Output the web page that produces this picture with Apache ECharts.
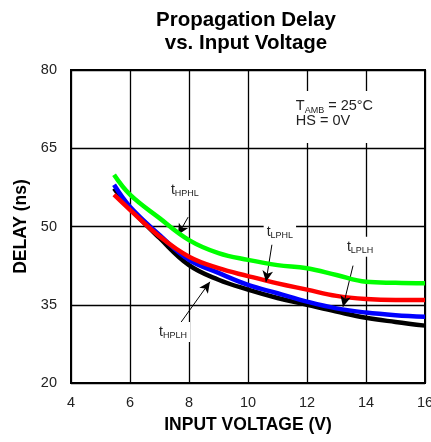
<!DOCTYPE html>
<html><head><meta charset="utf-8">
<script src="https://cdn.jsdelivr.net/npm/echarts@6/dist/echarts.min.js"></script>
<style>html,body{margin:0;padding:0;background:#fff}#c{width:431px;height:442px}</style>
</head><body><div id="c"></div>
<script>
const voltage = [5.46, 6, 7, 8, 9, 10, 11, 12, 13, 14, 15, 16];
const tHPHL = [59.9, 56.1, 51.6, 47.4, 44.9, 43.6, 42.6, 42.0, 40.7, 39.4, 39.2, 39.1];
const tLPHL = [56.1, 53.2, 48.1, 44.2, 42.0, 40.5, 39.1, 37.9, 36.7, 36.1, 35.9, 35.9];
const tLPLH = [58.0, 53.8, 48.4, 43.6, 41.1, 38.8, 37.2, 35.6, 34.3, 33.5, 33.0, 32.7];
const tHPLH = [57.3, 53.5, 47.8, 42.6, 39.8, 37.9, 36.3, 35.0, 33.7, 32.5, 31.7, 31.0];
const xTicks = [4, 6, 8, 10, 12, 14, 16];
const yTicks = [20, 35, 50, 65, 80];

const pair = (ys) => voltage.map((v, i) => [v, ys[i]]);
const FONT = 'Liberation Sans, Arial, sans-serif';

const subRich = {
  t: { fontSize: 14, fontFamily: FONT, color: '#222', lineHeight: 16 },
  s: { fontSize: 9, fontFamily: FONT, color: '#222', padding: [8, 0, 0, 0], lineHeight: 16 }
};
function labelPoint(coord, main, sub) {
  return {
    coord: coord, symbol: 'circle', symbolSize: 1,
    itemStyle: { color: 'rgba(0,0,0,0)' },
    label: {
      show: true, position: 'inside',
      formatter: '{t|' + main + '}{s|' + sub + '}',
      backgroundColor: '#fff', padding: [2, 3, 2, 3],
      rich: subRich
    }
  };
}
function arrow(a, b) { return [{ coord: a }, { coord: b }]; }

const chart = echarts.init(document.getElementById('c'), null, { renderer: 'canvas' });
chart.setOption({
  animation: false,
  backgroundColor: '#fff',
  title: {
    text: 'Propagation Delay\nvs. Input Voltage',
    left: 241, top: 4, textAlign: 'center',
    textStyle: { fontFamily: FONT, fontWeight: 'bold', fontSize: 20.5, lineHeight: 23, color: '#000' }
  },
  grid: { left: 71, top: 70, right: 6, bottom: 59, show: true, borderColor: '#000', borderWidth: 2,
    outerBoundsMode: 'none', containLabel: false },
  xAxis: {
    type: 'value', min: 4, max: 16, interval: 2,
    name: 'INPUT VOLTAGE (V)', nameLocation: 'middle', nameGap: 33,
    nameTextStyle: { fontFamily: FONT, fontWeight: 'bold', fontSize: 17.5, color: '#000' },
    axisLine: { show: true, onZero: false, lineStyle: { color: '#000', width: 2 } },
    axisTick: { show: false },
    axisLabel: { fontFamily: FONT, fontSize: 14.5, color: '#222', margin: 12,
      formatter: (v) => xTicks.includes(v) ? String(v) : '' },
    splitLine: { show: true, lineStyle: { color: '#000', width: 1.3 } }
  },
  yAxis: {
    type: 'value', min: 20, max: 80, interval: 15,
    name: 'DELAY (ns)', nameLocation: 'middle', nameGap: 38,
    nameTextStyle: { fontFamily: FONT, fontWeight: 'bold', fontSize: 17.5, color: '#000' },
    axisLine: { show: true, onZero: false, lineStyle: { color: '#000', width: 2 } },
    axisTick: { show: false },
    axisLabel: { fontFamily: FONT, fontSize: 14.5, color: '#222', margin: 14,
      formatter: (v) => yTicks.includes(v) ? String(v) : '' },
    splitLine: { show: true, lineStyle: { color: '#000', width: 1.3 } }
  },
  series: [
    { name: 'tHPLH', type: 'line', data: pair(tHPLH), smooth: 0.4, showSymbol: false,
      lineStyle: { color: '#000', width: 4.5 }, z: 2 },
    { name: 'tLPLH', type: 'line', data: pair(tLPLH), smooth: 0.4, showSymbol: false,
      lineStyle: { color: '#0000ff', width: 4.5 }, z: 3 },
    { name: 'tLPHL', type: 'line', data: pair(tLPHL), smooth: 0.4, showSymbol: false,
      lineStyle: { color: '#ff0000', width: 4.5 }, z: 4 },
    { name: 'tHPHL', type: 'line', data: pair(tHPHL), smooth: 0.4, showSymbol: false,
      lineStyle: { color: '#00ff00', width: 4.5 }, z: 5,
      markLine: {
        silent: true, symbol: ['none', 'arrow'], symbolSize: [8, 11],
        lineStyle: { color: '#000', width: 1, type: 'solid' },
        label: { show: false },
        data: [
          arrow([7.97, 51.8], [7.63, 48.4]),
          arrow([10.81, 46.5], [10.61, 39.4]),
          arrow([13.56, 42.5], [13.22, 34.6]),
          arrow([7.66, 31.1], [8.71, 39.4])
        ]
      },
      markPoint: {
        silent: true,
        data: [
          labelPoint([7.86, 57.0], 't', 'HPHL'),
          labelPoint([11.08, 49.0], 't', 'LPHL'),
          labelPoint([13.8, 46.1], 't', 'LPLH'),
          labelPoint([7.46, 29.8], 't', 'HPLH'),
          {
            coord: [11.45, 71.0], symbol: 'circle', symbolSize: 1,
            itemStyle: { color: 'rgba(0,0,0,0)' },
            label: {
              show: true, position: 'inside',
              formatter: '{a|T}{s|AMB}{a| = 25°C}\n{a|HS = 0V}',
              backgroundColor: '#fff', padding: [8, 4, 14, 5], align: 'left',
              rich: {
                a: { fontSize: 14.5, fontFamily: FONT, color: '#222', lineHeight: 15 },
                s: { fontSize: 9, fontFamily: FONT, color: '#222', padding: [8, 0, 0, 0], lineHeight: 15 }
              }
            }
          }
        ]
      }
    }
  ]
});
</script></body></html>
